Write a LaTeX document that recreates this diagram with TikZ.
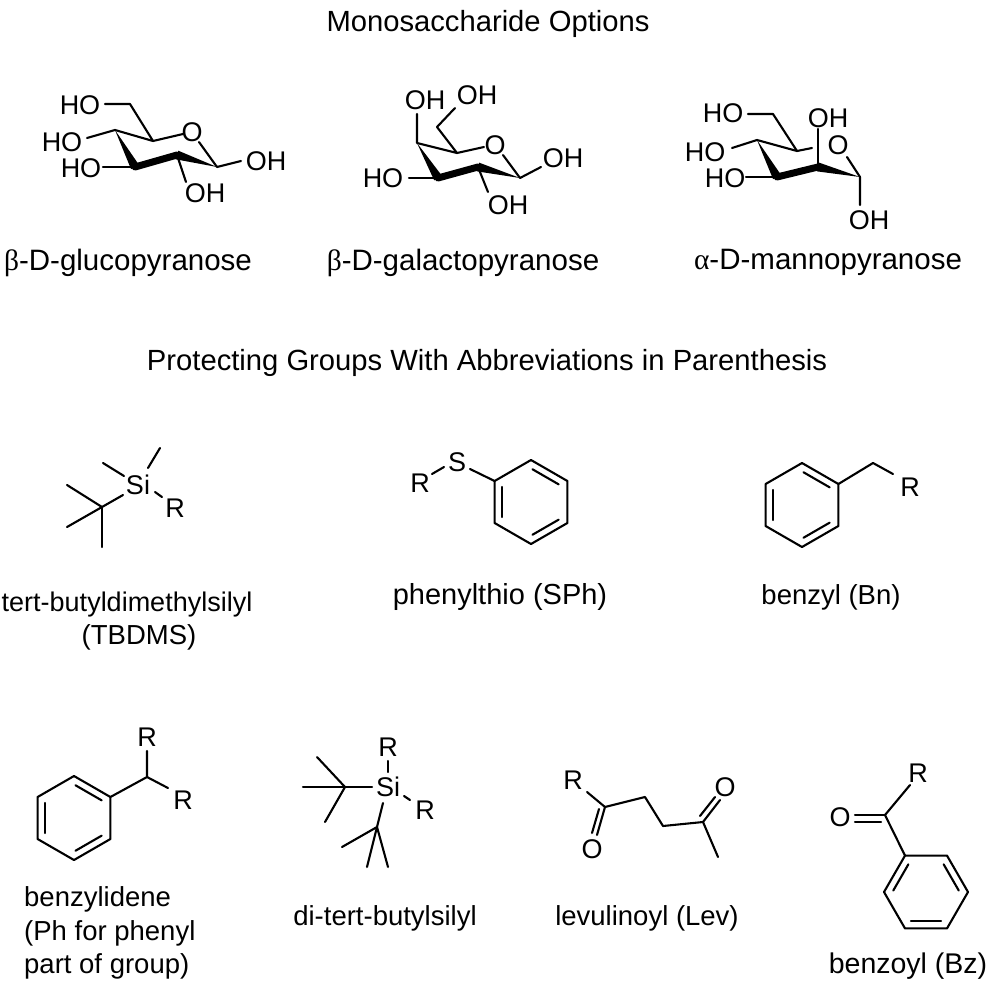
\documentclass[tikz,border=0pt]{standalone}
\usepackage{fontspec}
\setmainfont{Liberation Sans}
\newfontfamily\grk{Liberation Serif}
\usetikzlibrary{calc}
\tikzset{
  bond/.style={line width=2.1pt, line cap=round, line join=round},
  atom/.style={inner sep=0pt, font=\fontsize{27}{31}\selectfont},
  lbl/.style={inner sep=0pt, font=\fontsize{27.5}{33}\selectfont},
  sug/.style={inner sep=0pt, font=\fontsize{29.5}{34}\selectfont},
  head/.style={inner sep=0pt, font=\fontsize{29.2}{34}\selectfont},
}
\newcommand\dblin[3]{%
  \coordinate (dbA) at ($(#1)!0.8!(#2)$);
  \coordinate (dbB) at ($(#1)!0.8!(#3)$);
  \draw[bond] ($(dbA)!0.05!(dbB)$) -- ($(dbB)!0.05!(dbA)$);}
\newcommand\chairbold[4]{%
  \fill (#1) -- ($(#2)!4.5pt!90:(#1)$) -- ($(#2)!4.5pt!-90:(#1)$) -- cycle;
  \draw[line width=7pt, line cap=round] (#2) -- (#3);
  \fill (#4) -- ($(#3)!4.5pt!90:(#4)$) -- ($(#3)!4.5pt!-90:(#4)$) -- cycle;}
\begin{document}
\begin{tikzpicture}[x=1pt,y=-1pt]
\useasboundingbox[fill=white] (0,0) rectangle (995,988);

% ---------- headings ----------
\node[head] (h1) at (488,24) {Monosaccharide Options};
\node[head] (h2) at (487,363) {Protecting Groups With Abbreviations in Parenthesis};

% ---------- glucose ----------
\coordinate (g6) at (130,104);
\coordinate (g5) at (153,141);
\coordinate (g4) at (115,130);
\coordinate (g3) at (135,167);
\coordinate (g2) at (177,155);
\coordinate (g1) at (217,167);
\node[atom] (gO6) at (80,105) {HO};
\node[atom] (gO) at (192,132) {O};
\node[atom] (gO1) at (266,161) {OH};
\node[atom] (gO4) at (62,142) {HO};
\node[atom] (gO3) at (81,168) {HO};
\node[atom] (gO2) at (205,193) {OH};
\coordinate (gb6) at (105,104);
\coordinate (gbOa) at (183,134);
\coordinate (gbOb) at (199,142);
\coordinate (gb1) at (241,161);
\coordinate (gb4) at (87,138);
\coordinate (gb3) at (103,167);
\coordinate (gb2) at (186,182);
\draw[bond] (gb6) -- (g6) -- (g5) -- (gbOa);
\draw[bond] (gbOb) -- (g1) -- (gb1);
\draw[bond] (gb4) -- (g4) -- (g5);
\draw[bond] (gb3) -- (g3);
\draw[bond] (g2) -- (gb2);
\chairbold{g4}{g3}{g2}{g1}
\node[sug] (gl) at (128,263) {{\grk β}-D-glucopyranose};

% ---------- galactose ----------
\coordinate (a6) at (437,127);
\coordinate (a5) at (457,153);
\coordinate (a4) at (417,143);
\coordinate (a3) at (438,178);
\coordinate (a2) at (478,167);
\coordinate (a1) at (520,178);
\node[atom] (aO4) at (425,100) {OH};
\node[atom] (aO6) at (477,95) {OH};
\node[atom] (aO) at (495,145) {O};
\node[atom] (aO1) at (563,158) {OH};
\node[atom] (aO3) at (383,178) {HO};
\node[atom] (aO2) at (508,205) {OH};
\coordinate (ab4) at (417,114);
\coordinate (ab6) at (455,108);
\coordinate (abOa) at (484,147);
\coordinate (abOb) at (503,155);
\coordinate (ab1) at (541,167);
\coordinate (ab3) at (409,178);
\coordinate (ab2) at (488,192);
\draw[bond] (ab4) -- (a4) -- (a5) -- (a6) -- (ab6);
\draw[bond] (a5) -- (abOa);
\draw[bond] (abOb) -- (a1) -- (ab1);
\draw[bond] (ab3) -- (a3);
\draw[bond] (a2) -- (ab2);
\chairbold{a4}{a3}{a2}{a1}
\node[sug] (al) at (463,263) {{\grk β}-D-galactopyranose};

% ---------- mannose ----------
\coordinate (m6) at (773,114);
\coordinate (m5) at (797,151);
\coordinate (m4) at (757,140);
\coordinate (m3) at (777,177);
\coordinate (m2) at (818,167);
\coordinate (m1) at (860,177);
\node[atom] (mO6) at (723,113) {HO};
\node[atom] (mO) at (838,145) {O};
\node[atom] (mO2) at (828,118) {OH};
\node[atom] (mO1) at (869,220) {OH};
\node[atom] (mO4) at (705,152) {HO};
\node[atom] (mO3) at (725,178) {HO};
\coordinate (mb6) at (748,114);
\coordinate (mbOa) at (812,148);
\coordinate (mbOb) at (847,157);
\coordinate (mb2) at (818,129);
\coordinate (mb1) at (860,205);
\coordinate (mb4) at (732,148);
\coordinate (mb3) at (746,177);
\draw[bond] (mb6) -- (m6) -- (m5) -- (mbOa);
\draw[bond] (mbOb) -- (m1) -- (mb1);
\draw[bond] (mb4) -- (m4) -- (m5);
\draw[bond] (mb3) -- (m3);
\draw[bond] (m2) -- (mb2);
\chairbold{m4}{m3}{m2}{m1}
\node[sug] (ml) at (828,262) {{\grk α}-D-mannopyranose};

% ---------- TBDMS ----------
\node[atom] (tSi) at (138,485) {Si};
\node[atom] (tR) at (175,508) {R};
\coordinate (tC) at (102,507);
\coordinate (tm1a) at (148,468);
\coordinate (tm1b) at (160,448);
\coordinate (tm2a) at (124,476);
\coordinate (tm2b) at (103,463);
\coordinate (tRa) at (155,492);
\coordinate (tRb) at (162,497);
\coordinate (tCa) at (123,495);
\coordinate (tc1) at (67,485);
\coordinate (tc2) at (67,527);
\coordinate (tc3) at (102,547);
\draw[bond] (tm1a) -- (tm1b);
\draw[bond] (tm2a) -- (tm2b);
\draw[bond] (tRa) -- (tRb);
\draw[bond] (tCa) -- (tC);
\draw[bond] (tc1) -- (tC) -- (tc2);
\draw[bond] (tC) -- (tc3);
\node[lbl, font=\fontsize{27}{32}\selectfont] (tl1) at (127,605) {tert-butyldimethylsilyl};
\node[lbl] (tl2) at (139,637) {(TBDMS)};

% ---------- phenylthio ----------
\node[atom] (sS) at (457,462) {S};
\node[atom] (sR) at (420,483) {R};
\coordinate (sRa) at (432,474);
\coordinate (sRb) at (444,467);
\coordinate (sSa) at (470,469);
\coordinate (sc) at (531,502);
\coordinate (p1) at (494.6,481);
\coordinate (p2) at (531,460);
\coordinate (p3) at (567.4,481);
\coordinate (p4) at (567.4,523);
\coordinate (p5) at (531,544);
\coordinate (p6) at (494.6,523);
\draw[bond] (sRa) -- (sRb);
\draw[bond] (sSa) -- (p1);
\draw[bond] (p1) -- (p2) -- (p3) -- (p4) -- (p5) -- (p6) -- cycle;
\dblin{sc}{p1}{p6}
\dblin{sc}{p2}{p3}
\dblin{sc}{p4}{p5}
\node[lbl, font=\fontsize{29}{34}\selectfont] (sl) at (500,597) {phenylthio (SPh)};

% ---------- benzyl ----------
\coordinate (bc) at (802,505);
\coordinate (b1) at (765.6,484);
\coordinate (b2) at (802,463);
\coordinate (b3) at (838.4,484);
\coordinate (b4) at (838.4,526);
\coordinate (b5) at (802,547);
\coordinate (b6) at (765.6,526);
\coordinate (bCH) at (873,463);
\coordinate (bRa) at (893,474);
\node[atom] (bR) at (910,487) {R};
\draw[bond] (b1) -- (b2) -- (b3) -- (b4) -- (b5) -- (b6) -- cycle;
\draw[bond] (b3) -- (bCH) -- (bRa);
\dblin{bc}{b1}{b6}
\dblin{bc}{b2}{b3}
\dblin{bc}{b4}{b5}
\node[lbl] (bl) at (831,597) {benzyl (Bn)};

% ---------- benzylidene ----------
\coordinate (dc) at (74,818);
\coordinate (d1) at (37.6,797);
\coordinate (d2) at (74,776);
\coordinate (d3) at (110.4,797);
\coordinate (d4) at (110.4,839);
\coordinate (d5) at (74,860);
\coordinate (d6) at (37.6,839);
\coordinate (dCH) at (147,777);
\coordinate (dRa) at (147,751);
\coordinate (dRb) at (168,788);
\node[atom] (dR1) at (147,737) {R};
\node[atom] (dR2) at (183,800) {R};
\draw[bond] (d1) -- (d2) -- (d3) -- (d4) -- (d5) -- (d6) -- cycle;
\draw[bond] (d3) -- (dCH) -- (dRa);
\draw[bond] (dCH) -- (dRb);
\dblin{dc}{d1}{d6}
\dblin{dc}{d2}{d3}
\dblin{dc}{d4}{d5}
\node[lbl, anchor=west] (dl1) at (24,899) {benzylidene};
\node[lbl, anchor=west] (dl2) at (24,933) {(Ph for phenyl};
\node[lbl, anchor=west] (dl3) at (24,966) {part of group)};

% ---------- di-tert-butylsilyl ----------
\node[atom] (kSi) at (388,787) {Si};
\node[atom] (kR1) at (388,747) {R};
\node[atom] (kR2) at (425,810) {R};
\coordinate (kR1a) at (388,761);
\coordinate (kR1b) at (388,772);
\coordinate (kR2a) at (404,796);
\coordinate (kR2b) at (410,800);
\coordinate (kLa) at (372,787);
\coordinate (kL) at (345,787);
\coordinate (kL1) at (303,787);
\coordinate (kL2) at (317,757);
\coordinate (kL3) at (325,822);
\coordinate (kDa) at (383,803);
\coordinate (kD) at (377,827);
\coordinate (kD1) at (342,847);
\coordinate (kD2) at (367,867);
\coordinate (kD3) at (388,867);
\draw[bond] (kR1a) -- (kR1b);
\draw[bond] (kR2a) -- (kR2b);
\draw[bond] (kLa) -- (kL) -- (kL1);
\draw[bond] (kL2) -- (kL) -- (kL3);
\draw[bond] (kDa) -- (kD) -- (kD1);
\draw[bond] (kD2) -- (kD) -- (kD3);
\node[lbl] (kl) at (385,918) {di-tert-butylsilyl};

% ---------- levulinoyl ----------
\node[atom] (lR) at (573,780) {R};
\node[atom] (lOa) at (592,849) {O};
\node[atom] (lOb) at (725,787) {O};
\coordinate (lRa) at (587,792);
\coordinate (l1) at (605,807);
\coordinate (l1o) at (597,835);
\coordinate (l1p) at (599,809);
\coordinate (l1q) at (592,833);
\coordinate (l2) at (645,797);
\coordinate (l3) at (663,826);
\coordinate (l4) at (703,822);
\coordinate (l4o) at (720,800);
\coordinate (l4p) at (700,816);
\coordinate (l4q) at (715,797);
\coordinate (l5) at (718,857);
\draw[bond] (lRa) -- (l1) -- (l2) -- (l3) -- (l4) -- (l5);
\draw[bond] (l1) -- (l1o);
\draw[bond] (l1p) -- (l1q);
\draw[bond] (l4) -- (l4o);
\draw[bond] (l4p) -- (l4q);
\node[lbl] (ll) at (647,918) {levulinoyl (Lev)};

% ---------- benzoyl ----------
\node[atom] (zR) at (918,773) {R};
\node[atom] (zO) at (840,817) {O};
\coordinate (zRa) at (910,785);
\coordinate (z0) at (885,815);
\coordinate (zOa) at (855,815);
\coordinate (zOp) at (855,822);
\coordinate (zOq) at (881,822);
\coordinate (zc) at (926,892);
\coordinate (z1) at (905,855.6);
\coordinate (z2) at (947,855.6);
\coordinate (z3) at (968,892);
\coordinate (z4) at (947,928.4);
\coordinate (z5) at (905,928.4);
\coordinate (z6) at (884,892);
\draw[bond] (zRa) -- (z0) -- (z1);
\draw[bond] (z0) -- (zOa);
\draw[bond] (zOp) -- (zOq);
\draw[bond] (z1) -- (z2) -- (z3) -- (z4) -- (z5) -- (z6) -- cycle;
\dblin{zc}{z1}{z6}
\dblin{zc}{z2}{z3}
\dblin{zc}{z4}{z5}
\node[lbl, font=\fontsize{28.5}{33}\selectfont] (zl) at (908,966) {benzoyl (Bz)};
\end{tikzpicture}
\end{document}
